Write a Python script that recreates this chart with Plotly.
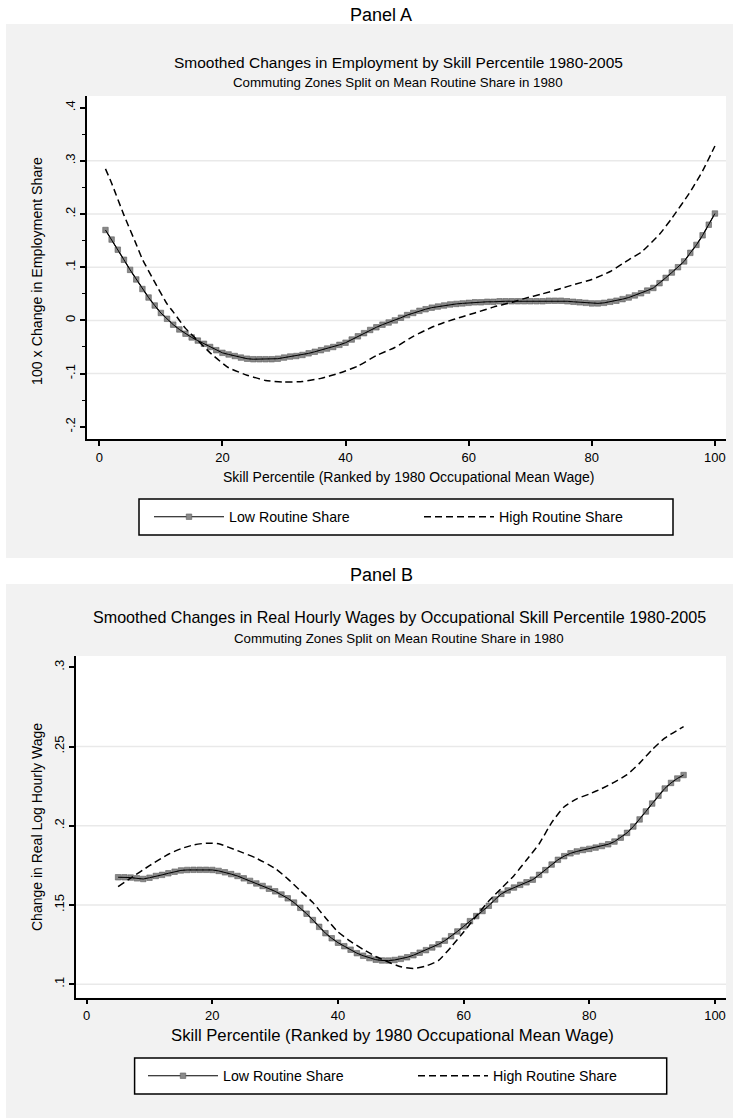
import plotly.graph_objects as go

W, H = 733, 1118
FONT = "Liberation Sans, Arial, sans-serif"

# ---------------- Panel A data ----------------
pct_a = list(range(1, 101))
low_a = [0.170, 0.152, 0.133, 0.114, 0.095, 0.077, 0.059, 0.043, 0.028, 0.014,
         0.003, -0.008, -0.017, -0.025, -0.032, -0.038, -0.044, -0.050, -0.056, -0.061,
         -0.064, -0.067, -0.070, -0.072, -0.073, -0.073, -0.073, -0.073, -0.072, -0.070,
         -0.068, -0.067, -0.065, -0.062, -0.059, -0.056, -0.053, -0.050, -0.046, -0.042,
         -0.036, -0.030, -0.024, -0.018, -0.013, -0.008, -0.004, 0.000, 0.005, 0.010,
         0.014, 0.018, 0.021, 0.024, 0.026, 0.028, 0.030, 0.031, 0.032, 0.033,
         0.034, 0.034, 0.035, 0.035, 0.036, 0.036, 0.036, 0.036, 0.036, 0.036,
         0.036, 0.036, 0.037, 0.037, 0.037, 0.036, 0.035, 0.034, 0.033, 0.032,
         0.032, 0.033, 0.035, 0.037, 0.040, 0.043, 0.047, 0.051, 0.056, 0.061,
         0.070, 0.080, 0.090, 0.100, 0.111, 0.127, 0.142, 0.160, 0.180, 0.201]
high_a_x = [1, 2, 4, 6, 7, 9, 11, 12, 14, 16, 18, 21, 24, 27, 30, 33, 36, 39, 42, 45,
            48, 51, 54, 56, 59, 61, 64, 67, 69, 72, 75, 77, 80, 83, 86, 88, 91, 93, 96, 98, 100]
high_a = [0.285, 0.258, 0.198, 0.143, 0.115, 0.072, 0.031, 0.016, -0.015, -0.038,
          -0.061, -0.089, -0.103, -0.113, -0.116, -0.115, -0.109, -0.099, -0.086, -0.066,
          -0.051, -0.030, -0.013, -0.004, 0.007, 0.014, 0.025, 0.034, 0.041, 0.050,
          0.060, 0.067, 0.077, 0.092, 0.114, 0.128, 0.162, 0.192, 0.242, 0.281, 0.328]

# ---------------- Panel B data ----------------
pct_b = list(range(5, 96))
low_b = [0.1675, 0.1675, 0.1673, 0.1668, 0.1664, 0.1672, 0.1683, 0.1690, 0.1700, 0.1710,
         0.1718, 0.1721, 0.1722, 0.1722, 0.1722, 0.1721, 0.1715, 0.1706, 0.1695, 0.1683,
         0.1668, 0.1652, 0.1636, 0.1620, 0.1603, 0.1586, 0.1566, 0.1542, 0.1515, 0.1482,
         0.1445, 0.1405, 0.1362, 0.1322, 0.1290, 0.1262, 0.1240, 0.1218, 0.1196, 0.1180,
         0.1165, 0.1155, 0.1150, 0.1149, 0.1153, 0.1160, 0.1170, 0.1183, 0.1199, 0.1215,
         0.1232, 0.1252, 0.1275, 0.1303, 0.1333, 0.1365, 0.1398, 0.1430, 0.1462, 0.1495,
         0.1535, 0.1570, 0.1592, 0.1610, 0.1627, 0.1643, 0.1660, 0.1690, 0.1720, 0.1755,
         0.1785, 0.1808, 0.1826, 0.1838, 0.1847, 0.1854, 0.1862, 0.1872, 0.1883, 0.1900,
         0.1925, 0.1955, 0.1995, 0.2040, 0.2090, 0.2140, 0.2190, 0.2235, 0.2270, 0.2298,
         0.2320]
high_b_x = [5, 7, 10, 13, 15, 17, 19, 21, 24, 27, 30, 32, 34, 36, 38, 40, 42, 44, 46, 48,
            50, 52, 54, 56, 58, 60, 62, 64, 66, 68, 70, 72, 74, 76, 78, 80, 82, 84, 86, 88,
            90, 92, 95]
high_b = [0.1616, 0.1670, 0.1748, 0.1820, 0.1855, 0.1879, 0.1890, 0.1886, 0.1843, 0.1795,
          0.1730, 0.1665, 0.1590, 0.1515, 0.1420, 0.1330, 0.1270, 0.1220, 0.1175, 0.1140,
          0.1110, 0.1100, 0.1115, 0.1150, 0.1235, 0.1330, 0.1430, 0.1525, 0.1605, 0.1685,
          0.1784, 0.1885, 0.2020, 0.2120, 0.2170, 0.2200, 0.2235, 0.2275, 0.2322, 0.2395,
          0.2480, 0.2553, 0.2625]

# ---------------- ticks / labels ----------------
x_ticks = [0, 20, 40, 60, 80, 100]
ya_ticks = [-0.2, -0.1, 0, 0.1, 0.2, 0.3, 0.4]
ya_text = ["-.2", "-.1", "0", ".1", ".2", ".3", ".4"]
ya_minor = [-0.15, -0.05, 0.05, 0.15, 0.25, 0.35]
ya_grid = [-0.1, 0, 0.1, 0.2, 0.3]
yb_ticks = [0.1, 0.15, 0.2, 0.25, 0.3]
yb_text = [".1", ".15", ".2", ".25", ".3"]
yb_grid = [0.1, 0.15, 0.2, 0.25]

series_names = ["Low Routine Share", "High Routine Share"]


def px(x):
    return x / W


def py(y):
    return 1 - y / H


fig = go.Figure()

low_marker = dict(symbol="square", size=5.5, color="#8a8a8a", line=dict(color="#5e5e5e", width=0.6))
dash_style = dict(color="black", width=1.5, dash="7px,4px")

# Panel A traces
fig.add_trace(go.Scatter(x=pct_a, y=low_a, mode="lines+markers", name=series_names[0],
                         line=dict(color="black", width=1.2), marker=low_marker,
                         xaxis="x", yaxis="y", legend="legend"))
fig.add_trace(go.Scatter(x=pct_a, y=low_a, mode="lines", showlegend=False, hoverinfo="skip",
                         line=dict(color="black", width=1.0), xaxis="x", yaxis="y"))
fig.add_trace(go.Scatter(x=high_a_x, y=high_a, mode="lines", name=series_names[1],
                         line=dict(shape="spline", smoothing=0.5, **dash_style),
                         xaxis="x", yaxis="y", legend="legend"))

# Panel B traces
fig.add_trace(go.Scatter(x=pct_b, y=low_b, mode="lines+markers", name=series_names[0],
                         line=dict(color="black", width=1.2), marker=low_marker,
                         xaxis="x2", yaxis="y2", legend="legend2"))
fig.add_trace(go.Scatter(x=pct_b, y=low_b, mode="lines", showlegend=False, hoverinfo="skip",
                         line=dict(color="black", width=1.0), xaxis="x2", yaxis="y2"))
fig.add_trace(go.Scatter(x=high_b_x, y=high_b, mode="lines", name=series_names[1],
                         line=dict(shape="spline", smoothing=0.5, **dash_style),
                         xaxis="x2", yaxis="y2", legend="legend2"))

axis_common = dict(showline=True, linecolor="black", linewidth=1.5, ticks="outside",
                   ticklen=5, tickwidth=1.5, tickcolor="black", showgrid=False,
                   zeroline=False, ticklabeloverflow="allow",
                   tickfont=dict(family=FONT, size=13, color="black"))

legend_common = dict(orientation="h", xanchor="left", yanchor="middle",
                     bgcolor="rgba(0,0,0,0)", borderwidth=0, entrywidth=185,
                     entrywidthmode="pixels", itemwidth=70,
                     font=dict(family=FONT, size=14.2, color="black"))

fig.update_layout(
    width=W, height=H, margin=dict(l=0, r=0, t=0, b=0),
    paper_bgcolor="white", plot_bgcolor="white",
    xaxis=dict(domain=[px(86.7), px(726)], range=[-2.05, 101.8], tickvals=x_ticks,
               anchor="y", **axis_common),
    yaxis=dict(domain=[py(439.3), py(96)], range=[-0.2236, 0.422], tickvals=ya_ticks,
               ticktext=ya_text, tickangle=-90, anchor="x",
               minor=dict(tickvals=ya_minor, ticks="outside", ticklen=3, tickwidth=1.2,
                          tickcolor="black", showgrid=False),
               **axis_common),
    xaxis2=dict(domain=[px(76), px(726)], range=[-1.70, 101.75], tickvals=x_ticks,
                anchor="y2", **axis_common),
    yaxis2=dict(domain=[py(997.7), py(656)], range=[0.0915, 0.3071], tickvals=yb_ticks,
                ticktext=yb_text, tickangle=-90, anchor="x2", **axis_common),
    legend=dict(x=px(149), y=py(517), **legend_common),
    legend2=dict(x=px(143), y=py(1076), **legend_common),
)

shapes = []
# outer gray panels
shapes.append(dict(type="rect", xref="paper", yref="paper", x0=px(6), x1=1, y0=py(558), y1=py(24),
                   fillcolor="#f2f2f2", line=dict(width=0), layer="below"))
shapes.append(dict(type="rect", xref="paper", yref="paper", x0=px(6), x1=1, y0=0, y1=py(584),
                   fillcolor="#f2f2f2", line=dict(width=0), layer="below"))
# white plot regions
shapes.append(dict(type="rect", xref="x domain", yref="y domain", x0=0, x1=1, y0=0, y1=1,
                   fillcolor="white", line=dict(width=0), layer="below"))
shapes.append(dict(type="rect", xref="x2 domain", yref="y2 domain", x0=0, x1=1, y0=0, y1=1,
                   fillcolor="white", line=dict(width=0), layer="below"))
# legend boxes
shapes.append(dict(type="rect", xref="paper", yref="paper", x0=px(139), x1=px(673), y0=py(535), y1=py(499),
                   fillcolor="white", line=dict(color="black", width=1.5), layer="below"))
shapes.append(dict(type="rect", xref="paper", yref="paper", x0=px(134.6), x1=px(666.7), y0=py(1094), y1=py(1058),
                   fillcolor="white", line=dict(color="black", width=1.5), layer="below"))
# gridlines
for g in ya_grid:
    shapes.append(dict(type="line", xref="x domain", yref="y", x0=0, x1=1, y0=g, y1=g,
                       line=dict(color="#e9e9e9", width=1.5), layer="below"))
for g in yb_grid:
    shapes.append(dict(type="line", xref="x2 domain", yref="y2", x0=0, x1=1, y0=g, y1=g,
                       line=dict(color="#e9e9e9", width=1.5), layer="below"))
fig.update_layout(shapes=shapes)


def txt(s, x, y, size, angle=0):
    return dict(text=s, x=px(x), y=py(y), xref="paper", yref="paper", showarrow=False,
                xanchor="center", yanchor="middle", textangle=angle,
                font=dict(family=FONT, size=size, color="black"))


annotations = [
    txt("Panel A", 381, 15, 18),
    txt("Smoothed Changes in Employment by Skill Percentile 1980-2005", 398, 62, 15.5),
    txt("Commuting Zones Split on Mean Routine Share in 1980", 398, 82, 13.3),
    txt("Skill Percentile (Ranked by 1980 Occupational Mean Wage)", 408, 477, 14),
    txt("100 x Change in Employment Share", 37, 271, 14.2, angle=-90),
    txt("Panel B", 381, 575, 18),
    txt("Smoothed Changes in Real Hourly Wages by Occupational Skill Percentile 1980-2005", 399, 617, 16.1),
    txt("Commuting Zones Split on Mean Routine Share in 1980", 399, 638, 13.3),
    txt("Skill Percentile (Ranked by 1980 Occupational Mean Wage)", 392, 1035, 16.7),
    txt("Change in Real Log Hourly Wage", 37, 827, 14, angle=-90),
]
fig.update_layout(annotations=annotations)

fig.write_html("out.html", config={"displayModeBar": False},
               post_script="document.body.style.margin='0px';document.body.style.overflow='hidden';")
